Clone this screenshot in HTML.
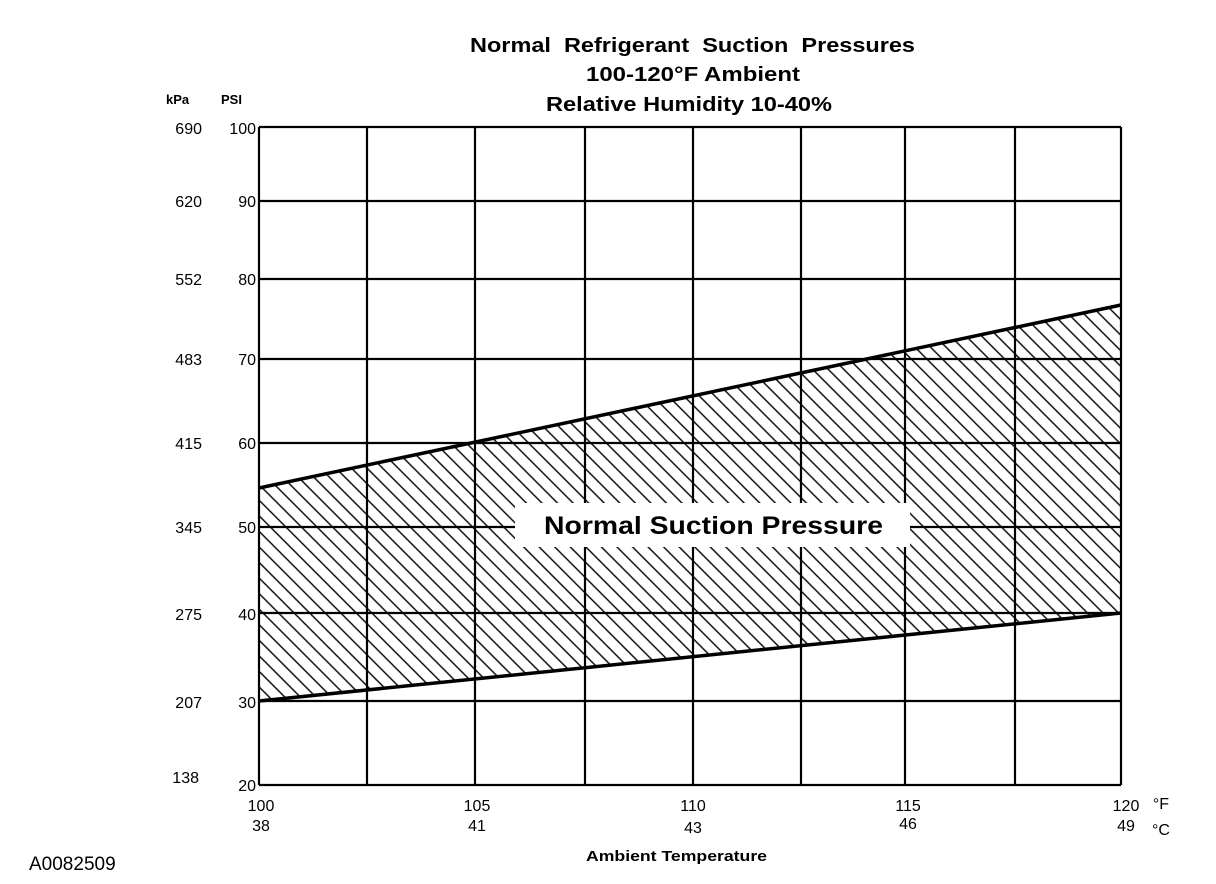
<!DOCTYPE html>
<html><head><meta charset="utf-8"><style>
html,body{margin:0;padding:0;background:#fff}
svg{display:block}
text{font-family:"Liberation Sans",Arial,sans-serif;fill:#000}
</style></head><body>
<svg width="1216" height="884" viewBox="0 0 1216 884">
<defs>
<pattern id="h" width="11" height="11" patternUnits="userSpaceOnUse" patternTransform="rotate(45)">
<line x1="0" y1="5.5" x2="11" y2="5.5" stroke="#000" stroke-width="1.4"/>
</pattern>
<clipPath id="c"><polygon points="259,488 1121,305 1121,613 259,701"/></clipPath>
</defs>
<rect x="259" y="300" width="862" height="410" fill="url(#h)" clip-path="url(#c)"/>
<g stroke="#000" stroke-width="2.2" fill="none">
<line x1="259" y1="127" x2="1121" y2="127"/>
<line x1="259" y1="201" x2="1121" y2="201"/>
<line x1="259" y1="279" x2="1121" y2="279"/>
<line x1="259" y1="359" x2="1121" y2="359"/>
<line x1="259" y1="443" x2="1121" y2="443"/>
<line x1="259" y1="527" x2="1121" y2="527"/>
<line x1="259" y1="613" x2="1121" y2="613"/>
<line x1="259" y1="701" x2="1121" y2="701"/>
<line x1="259" y1="785" x2="1121" y2="785"/>
<line x1="259" y1="127" x2="259" y2="785"/>
<line x1="367" y1="127" x2="367" y2="785"/>
<line x1="475" y1="127" x2="475" y2="785"/>
<line x1="585" y1="127" x2="585" y2="785"/>
<line x1="693" y1="127" x2="693" y2="785"/>
<line x1="801" y1="127" x2="801" y2="785"/>
<line x1="905" y1="127" x2="905" y2="785"/>
<line x1="1015" y1="127" x2="1015" y2="785"/>
<line x1="1121" y1="127" x2="1121" y2="785"/>
</g>
<g stroke="#000" stroke-width="3.5">
<line x1="259" y1="488" x2="1121" y2="305"/>
<line x1="259" y1="701" x2="1121" y2="613"/>
</g>
<rect x="515" y="503" width="395" height="44" fill="#fff"/>
<text x="544" y="534" font-size="25" font-weight="bold" textLength="339" lengthAdjust="spacingAndGlyphs">Normal Suction Pressure</text>
<g font-size="20" font-weight="bold">
<text x="470" y="52" textLength="445" lengthAdjust="spacingAndGlyphs">Normal&#160; Refrigerant&#160; Suction&#160; Pressures</text>
<text x="586" y="81" textLength="214" lengthAdjust="spacingAndGlyphs">100-120°F Ambient</text>
<text x="546" y="111" textLength="286" lengthAdjust="spacingAndGlyphs">Relative Humidity 10-40%</text>
</g>
<g font-size="13" font-weight="bold"><text x="166" y="104">kPa</text><text x="221" y="104">PSI</text></g>
<g font-size="16" text-anchor="end">
<text x="202" y="134">690</text><text x="256" y="134">100</text>
<text x="202" y="207">620</text><text x="256" y="207">90</text>
<text x="202" y="285">552</text><text x="256" y="285">80</text>
<text x="202" y="365">483</text><text x="256" y="365">70</text>
<text x="202" y="449">415</text><text x="256" y="449">60</text>
<text x="202" y="533">345</text><text x="256" y="533">50</text>
<text x="202" y="620">275</text><text x="256" y="620">40</text>
<text x="202" y="708">207</text><text x="256" y="708">30</text>
<text x="199" y="783">138</text><text x="256" y="791">20</text>
</g>
<g font-size="16" text-anchor="middle">
<text x="261" y="811">100</text><text x="261" y="831">38</text>
<text x="477" y="811">105</text><text x="477" y="831">41</text>
<text x="693" y="811">110</text><text x="693" y="833">43</text>
<text x="908" y="811">115</text><text x="908" y="829">46</text>
<text x="1126" y="811">120</text><text x="1126" y="831">49</text>
<text x="1161" y="809">°F</text><text x="1161" y="835">°C</text>
</g>
<text x="586" y="861" font-size="15" font-weight="bold" textLength="181" lengthAdjust="spacingAndGlyphs">Ambient Temperature</text>
<text x="29" y="870" font-size="19">A0082509</text>
</svg>
</body></html>
